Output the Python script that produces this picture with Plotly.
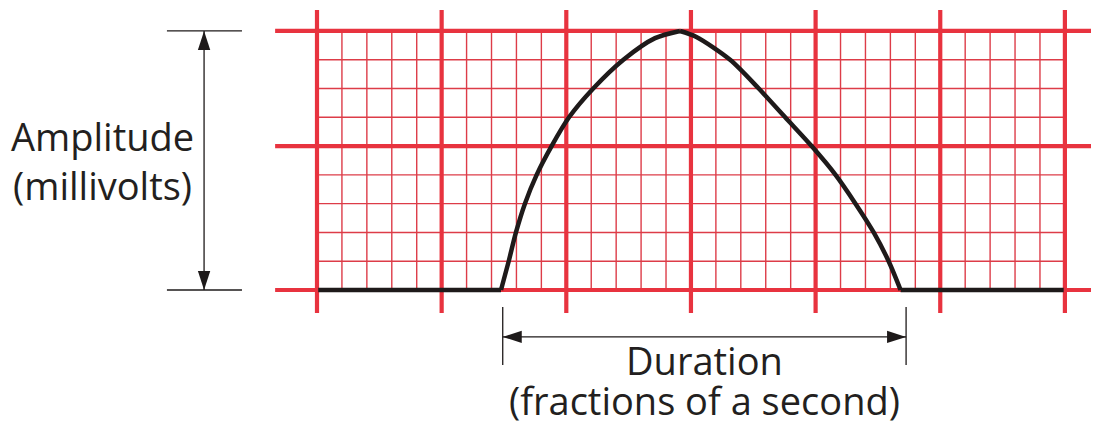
import plotly.graph_objs as go

## ECG paper grid (units = small squares)
major_x = [0, 5, 10, 15, 20, 25, 30]
major_y = [0, 5, 9]
minor_x = [1, 2, 3, 4, 6, 7, 8, 9, 11, 12, 13, 14, 16, 17, 18, 19, 21, 22, 23, 24, 26, 27, 28, 29]
minor_y = [1, 2, 3, 4, 6, 7, 8]

## Wave
rise_t = [7.38, 7.69, 7.98, 8.34, 8.81, 9.41, 10.11, 11.08, 12.29, 13.56, 14.56]
rise_v = [0, 1, 2, 3, 4, 5, 6, 7, 8, 8.75, 9.0]
fall_t = [14.56, 15.2, 16.57, 17.72, 18.78, 19.84, 20.8, 21.6, 22.33, 22.93, 23.41]
fall_v = [9.0, 8.8, 8, 7, 6, 5, 4, 3, 2, 1, 0]
base_left = [0.05, 7.38]
base_right = [23.41, 29.95]

## Dimension markers
amp_x = -4.53
amp_y = [0, 9]
amp_tick = [-6.02, -3.01]
dur_x = [7.45, 23.63]
dur_y = -1.63
dur_tick = [-0.59, -2.61]


def segments(pos, lo, hi, vertical):
    xs, ys = [], []
    for p in pos:
        if vertical:
            xs += [p, p, None]
            ys += [lo, hi, None]
        else:
            xs += [lo, hi, None]
            ys += [p, p, None]
    return xs, ys


red = '#e8333f'
red_minor = '#dd3c48'
ink = '#1e1a1a'

data = []

# minor grid
mx, my = segments(minor_x, 0, 9, True)
data.append(go.Scatter(x=mx, y=my, mode='lines', line=dict(color=red_minor, width=1.4)))
mx, my = segments(minor_y, 0, 30, False)
data.append(go.Scatter(x=mx, y=my, mode='lines', line=dict(color=red_minor, width=1.4)))

# major grid
gx, gy = segments(major_x, -0.8, 9.73, True)
data.append(go.Scatter(x=gx, y=gy, mode='lines', line=dict(color=red, width=4.2)))
gx, gy = segments(major_y, -1.68, 31.5, False)
data.append(go.Scatter(x=gx, y=gy, mode='lines', line=dict(color=red, width=4.2)))

# the wave
data.append(go.Scatter(x=base_left, y=[0, 0], mode='lines', line=dict(color=ink, width=4.5)))
data.append(go.Scatter(x=base_right, y=[0, 0], mode='lines', line=dict(color=ink, width=4.5)))
data.append(go.Scatter(x=rise_t, y=rise_v, mode='lines',
                       line=dict(color=ink, width=4.5, shape='spline', smoothing=0.8)))
data.append(go.Scatter(x=fall_t, y=fall_v, mode='lines',
                       line=dict(color=ink, width=4.5, shape='spline', smoothing=0.8)))

# amplitude bracket
tx, ty = segments(amp_y, amp_tick[0], amp_tick[1], False)
data.append(go.Scatter(x=tx, y=ty, mode='lines', line=dict(color=ink, width=1.3)))
data.append(go.Scatter(x=[amp_x, amp_x], y=amp_y, mode='lines', line=dict(color=ink, width=1.3)))
data.append(go.Scatter(x=[amp_x, amp_x], y=amp_y, mode='markers',
                       marker=dict(symbol='arrow', size=20, angle=[180, 0], color=ink, line=dict(width=0))))

# duration bracket
tx, ty = segments(dur_x, dur_tick[0], dur_tick[1], True)
data.append(go.Scatter(x=tx, y=ty, mode='lines', line=dict(color=ink, width=1.3)))
data.append(go.Scatter(x=dur_x, y=[dur_y, dur_y], mode='lines', line=dict(color=ink, width=1.3)))
data.append(go.Scatter(x=dur_x, y=[dur_y, dur_y], mode='markers',
                       marker=dict(symbol='arrow', size=20, angle=[270, 90], color=ink, line=dict(width=0))))

font = dict(family='Open Sans', color='#231f20')
labels = [
    ('Amplitude<br>(millivolts)', -8.62, 4.5, 38),
    ('Duration', 15.54, -2.43, 38),
    ('(fractions of a second)', 15.56, -3.82, 38),
]
annotations = []
for txt, x, y, size in labels:
    annotations.append(dict(text=txt, x=x, y=y, xref='x', yref='y', showarrow=False, borderpad=0,
                            xanchor='center', yanchor='middle', font=dict(size=size, **font)))

# the page body has an 8px margin, so the figure is 8px smaller and starts at (8, 8)
layout = go.Layout(
    width=1091, height=419,
    margin=dict(l=0, r=0, t=0, b=0),
    paper_bgcolor='white', plot_bgcolor='white',
    showlegend=False,
    xaxis=dict(range=[-12.395, 31.368], visible=False, fixedrange=True),
    yaxis=dict(range=[-4.760, 9.798], visible=False, fixedrange=True),
    annotations=annotations,
)

fig = go.Figure(data=data, layout=layout)
fig.write_html("out.html")
